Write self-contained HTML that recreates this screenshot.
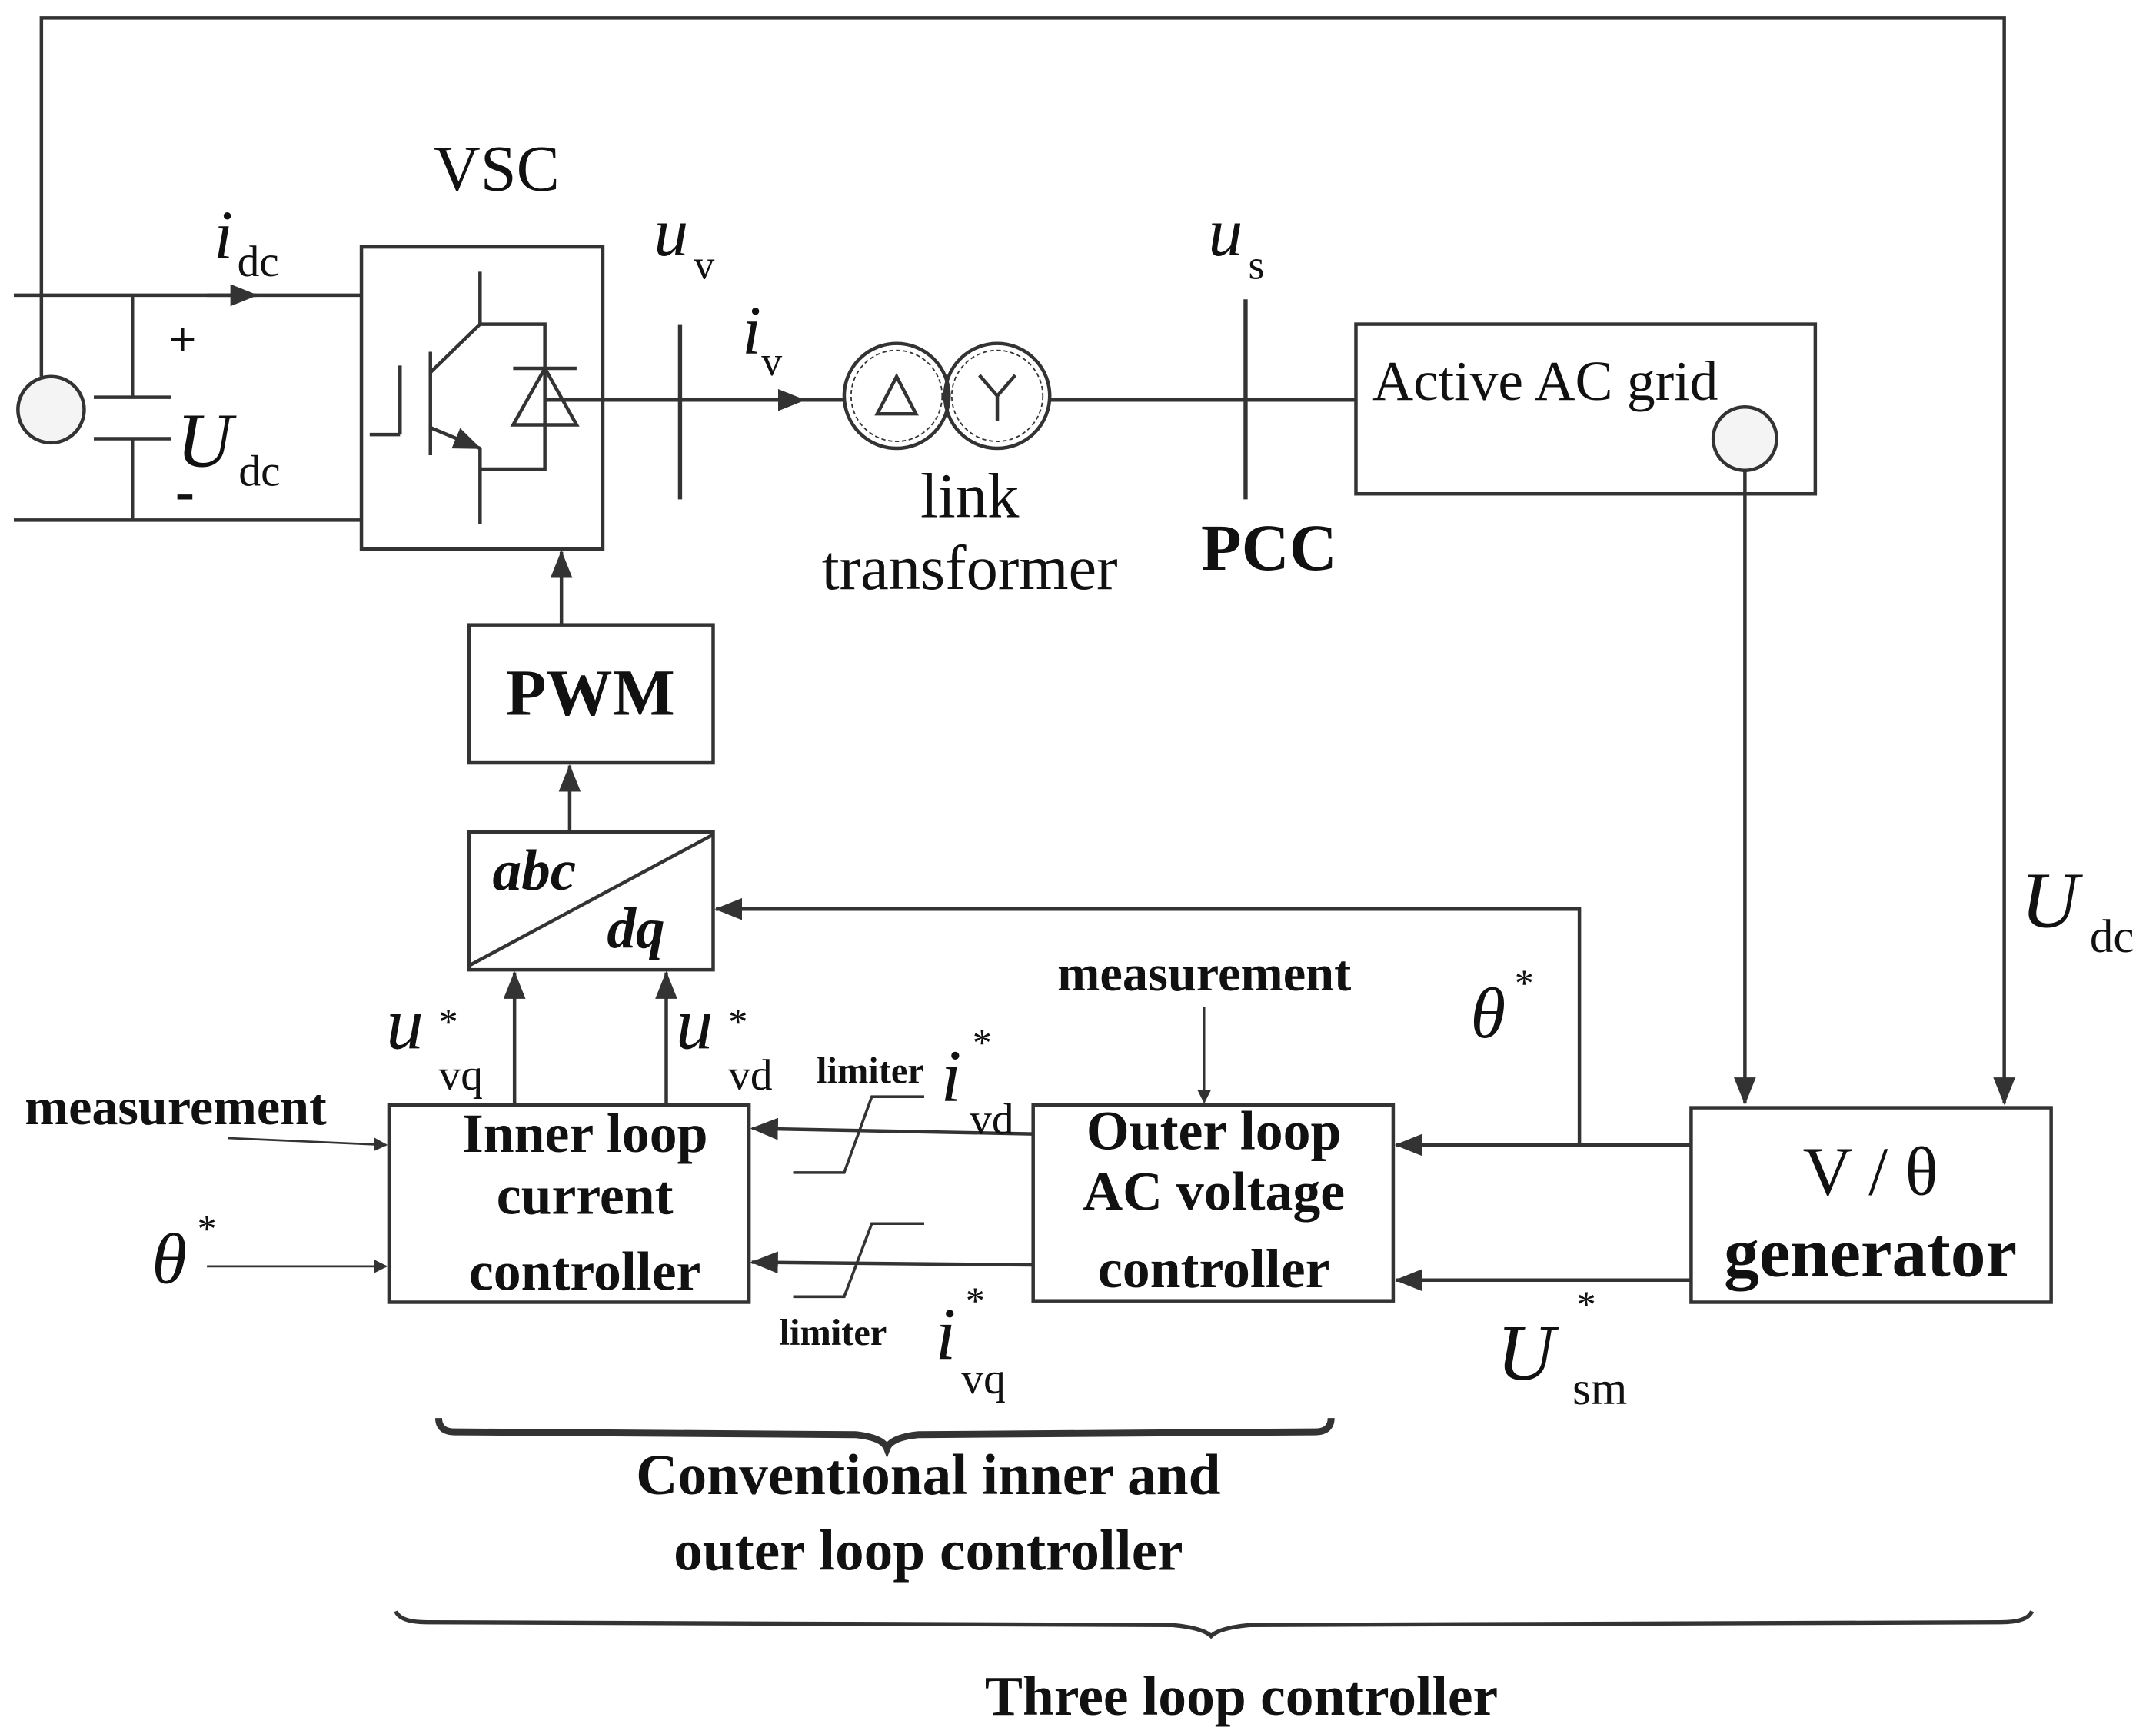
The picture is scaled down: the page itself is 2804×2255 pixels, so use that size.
<!DOCTYPE html>
<html><head><meta charset="utf-8"><style>
html,body{margin:0;padding:0;background:#fff;}
svg{display:block;}
text{font-family:"Liberation Serif",serif;fill:#111;}
.b{font-weight:bold;}
.i{font-style:italic;}
</style></head><body>
<svg width="2804" height="2255" viewBox="0 0 1563 1257" xmlns="http://www.w3.org/2000/svg">
<defs>
<marker id="a" markerWidth="10" markerHeight="10" refX="9" refY="5" orient="auto" markerUnits="userSpaceOnUse">
<path d="M0,0 L10,5 L0,10 Z" fill="#333"/></marker>
<marker id="A" markerWidth="20" markerHeight="16" refX="19" refY="8" orient="auto" markerUnits="userSpaceOnUse">
<path d="M0,0 L20,8 L0,16 Z" fill="#333"/></marker>
</defs>
<g stroke="#333" stroke-width="2.5" fill="none">
<polyline points="30,273 30,13 1453,13 1453,800" marker-end="url(#A)"/>
<circle cx="37" cy="297" r="24" fill="#f4f4f4"/>
<line x1="10" y1="214" x2="262" y2="214"/>
<line x1="10" y1="377" x2="262" y2="377"/>
<line x1="150" y1="214" x2="186" y2="214" marker-end="url(#A)"/>
<polyline points="96,214 96,288"/><line x1="68" y1="288" x2="124" y2="288"/>
<line x1="68" y1="318" x2="124" y2="318"/><polyline points="96,318 96,377"/>
<rect x="262" y="179" width="175" height="219"/>
<line x1="290" y1="265" x2="290" y2="315"/><line x1="268" y1="315" x2="290" y2="315"/>
<line x1="312" y1="255" x2="312" y2="330"/>
<polyline points="312,270 348,235 348,197"/>
<line x1="312" y1="310" x2="348" y2="325" marker-end="url(#A)"/>
<polyline points="348,325 348,380"/>
<polyline points="348,235 395,235 395,340 348,340"/>
<line x1="372" y1="267" x2="418" y2="267"/>
<path d="M372,308 L418,308 L395,267 Z"/>
<line x1="395" y1="290" x2="437" y2="290"/>
<line x1="437" y1="290" x2="612" y2="290"/>
<line x1="540" y1="290" x2="583" y2="290" marker-end="url(#A)"/>
<line x1="493" y1="235" x2="493" y2="362" stroke-width="3"/>
<circle cx="650" cy="287" r="38"/><circle cx="723" cy="287" r="38"/>
<circle cx="650" cy="287" r="33" stroke-width="1" stroke-dasharray="3 2"/>
<circle cx="723" cy="287" r="33" stroke-width="1" stroke-dasharray="3 2"/>
<path d="M636,300 L664,300 L650,273 Z"/>
<polyline points="710,272 723,287 736,272"/><line x1="723" y1="287" x2="723" y2="305"/>
<line x1="761" y1="290" x2="983" y2="290"/>
<line x1="903" y1="217" x2="903" y2="362" stroke-width="3"/>
<rect x="983" y="235" width="333" height="123"/>
<circle cx="1265" cy="318" r="23" fill="#f4f4f4"/>
<line x1="1265" y1="341" x2="1265" y2="800" marker-end="url(#A)"/>
<rect x="340" y="453" width="177" height="100"/>
<line x1="407" y1="453" x2="407" y2="400" marker-end="url(#A)"/>
<rect x="340" y="603" width="177" height="100"/>
<line x1="340" y1="700" x2="517" y2="605"/>
<line x1="413" y1="603" x2="413" y2="555" marker-end="url(#A)"/>
<polyline points="1145,830 1145,659 519,659" marker-end="url(#A)"/>
<line x1="373" y1="800" x2="373" y2="705" marker-end="url(#A)"/>
<line x1="483" y1="800" x2="483" y2="705" marker-end="url(#A)"/>
<rect x="282" y="801" width="261" height="143"/>
<rect x="749" y="801" width="261" height="142"/>
<rect x="1226" y="803" width="261" height="141"/>
<line x1="1226" y1="830" x2="1012" y2="830" marker-end="url(#A)"/>
<line x1="1226" y1="928" x2="1012" y2="928" marker-end="url(#A)"/>
<line x1="749" y1="822" x2="545" y2="818" marker-end="url(#A)"/>
<line x1="749" y1="917" x2="545" y2="915" marker-end="url(#A)"/>
<polyline points="575,850 612,850 632,795 670,795" stroke-width="2"/>
<polyline points="575,940 612,940 632,887 670,887" stroke-width="2"/>
<line x1="873" y1="730" x2="873" y2="799" stroke-width="1.5" marker-end="url(#a)"/>
<line x1="165" y1="825" x2="280" y2="830" stroke-width="1.5" marker-end="url(#a)"/>
<line x1="150" y1="918" x2="280" y2="918" stroke-width="1.5" marker-end="url(#a)"/>
<path d="M318,1028 Q318,1038 330,1038 L620,1040 Q640,1042 643,1050 Q646,1042 666,1040 L953,1038 Q965,1038 965,1028" stroke-width="5"/>
<path d="M287,1168 Q290,1176 310,1176 L850,1178 Q872,1180 878,1186 Q884,1180 906,1178 L1450,1176 Q1470,1176 1473,1168" stroke-width="3"/>
</g>
<text x="360" y="138" font-size="47" text-anchor="middle" font-family="Liberation Sans">VSC</text>
<text x="155" y="187" font-size="50" class="i">i</text><text x="172" y="200" font-size="32">dc</text>
<text x="122" y="258" font-size="36" class="b">+</text><text x="127" y="370" font-size="42" class="b">-</text>
<text x="128" y="338" font-size="56" class="i">U</text><text x="173" y="352" font-size="32">dc</text>
<text x="474" y="185" font-size="50" class="i">u</text><text x="503" y="202" font-size="30">v</text>
<text x="538" y="256" font-size="50" class="i">i</text><text x="552" y="272" font-size="30">v</text>
<text x="876" y="185" font-size="50" class="i">u</text><text x="905" y="202" font-size="30">s</text>
<text x="703" y="375" font-size="46" text-anchor="middle">link</text>
<text x="703" y="427" font-size="46" text-anchor="middle">transformer</text>
<text x="920" y="413" font-size="48" class="b" text-anchor="middle">PCC</text>
<text x="995" y="290" font-size="41">Active AC grid</text>
<text x="428" y="518" font-size="48" class="b" text-anchor="middle">PWM</text>
<text x="357" y="645" font-size="42" class="b i">abc</text>
<text x="440" y="687" font-size="42" class="b i">dq</text>
<text x="1465" y="672" font-size="58" class="i">U</text><text x="1515" y="690" font-size="34">dc</text>
<text x="1066" y="752" font-size="52" class="i">θ</text><text x="1098" y="722" font-size="28">*</text>
<text x="873" y="718" font-size="37" class="b" text-anchor="middle">measurement</text>
<text x="280" y="760" font-size="54" class="i">u</text><text x="318" y="750" font-size="28">*</text><text x="318" y="790" font-size="32">vq</text>
<text x="490" y="760" font-size="54" class="i">u</text><text x="528" y="750" font-size="28">*</text><text x="528" y="790" font-size="32">vd</text>
<text x="592" y="785" font-size="27" class="b">limiter</text>
<text x="682" y="798" font-size="54" class="i">i</text><text x="705" y="765" font-size="28">*</text><text x="703" y="822" font-size="32">vd</text>
<text x="565" y="975" font-size="27" class="b">limiter</text>
<text x="678" y="985" font-size="54" class="i">i</text><text x="700" y="952" font-size="28">*</text><text x="697" y="1010" font-size="32">vq</text>
<text x="18" y="815" font-size="38" class="b">measurement</text>
<text x="110" y="930" font-size="52" class="i">θ</text><text x="143" y="900" font-size="28">*</text>
<text x="424" y="835" font-size="40" class="b" text-anchor="middle">Inner loop</text>
<text x="424" y="880" font-size="40" class="b" text-anchor="middle">current</text>
<text x="424" y="935" font-size="40" class="b" text-anchor="middle">controller</text>
<text x="880" y="833" font-size="40" class="b" text-anchor="middle">Outer loop</text>
<text x="880" y="877" font-size="40" class="b" text-anchor="middle">AC voltage</text>
<text x="880" y="933" font-size="40" class="b" text-anchor="middle">controller</text>
<text x="1356" y="866" font-size="50" text-anchor="middle">V  /  θ</text>
<text x="1356" y="925" font-size="51" class="b" text-anchor="middle">generator</text>
<text x="1085" y="1000" font-size="58" class="i">U</text><text x="1143" y="955" font-size="28">*</text><text x="1140" y="1018" font-size="34">sm</text>
<text x="673" y="1083" font-size="42" class="b" text-anchor="middle">Conventional inner and</text>
<text x="673" y="1138" font-size="42" class="b" text-anchor="middle">outer loop controller</text>
<text x="900" y="1243" font-size="41" class="b" text-anchor="middle">Three loop controller</text>
</svg>
</body></html>
